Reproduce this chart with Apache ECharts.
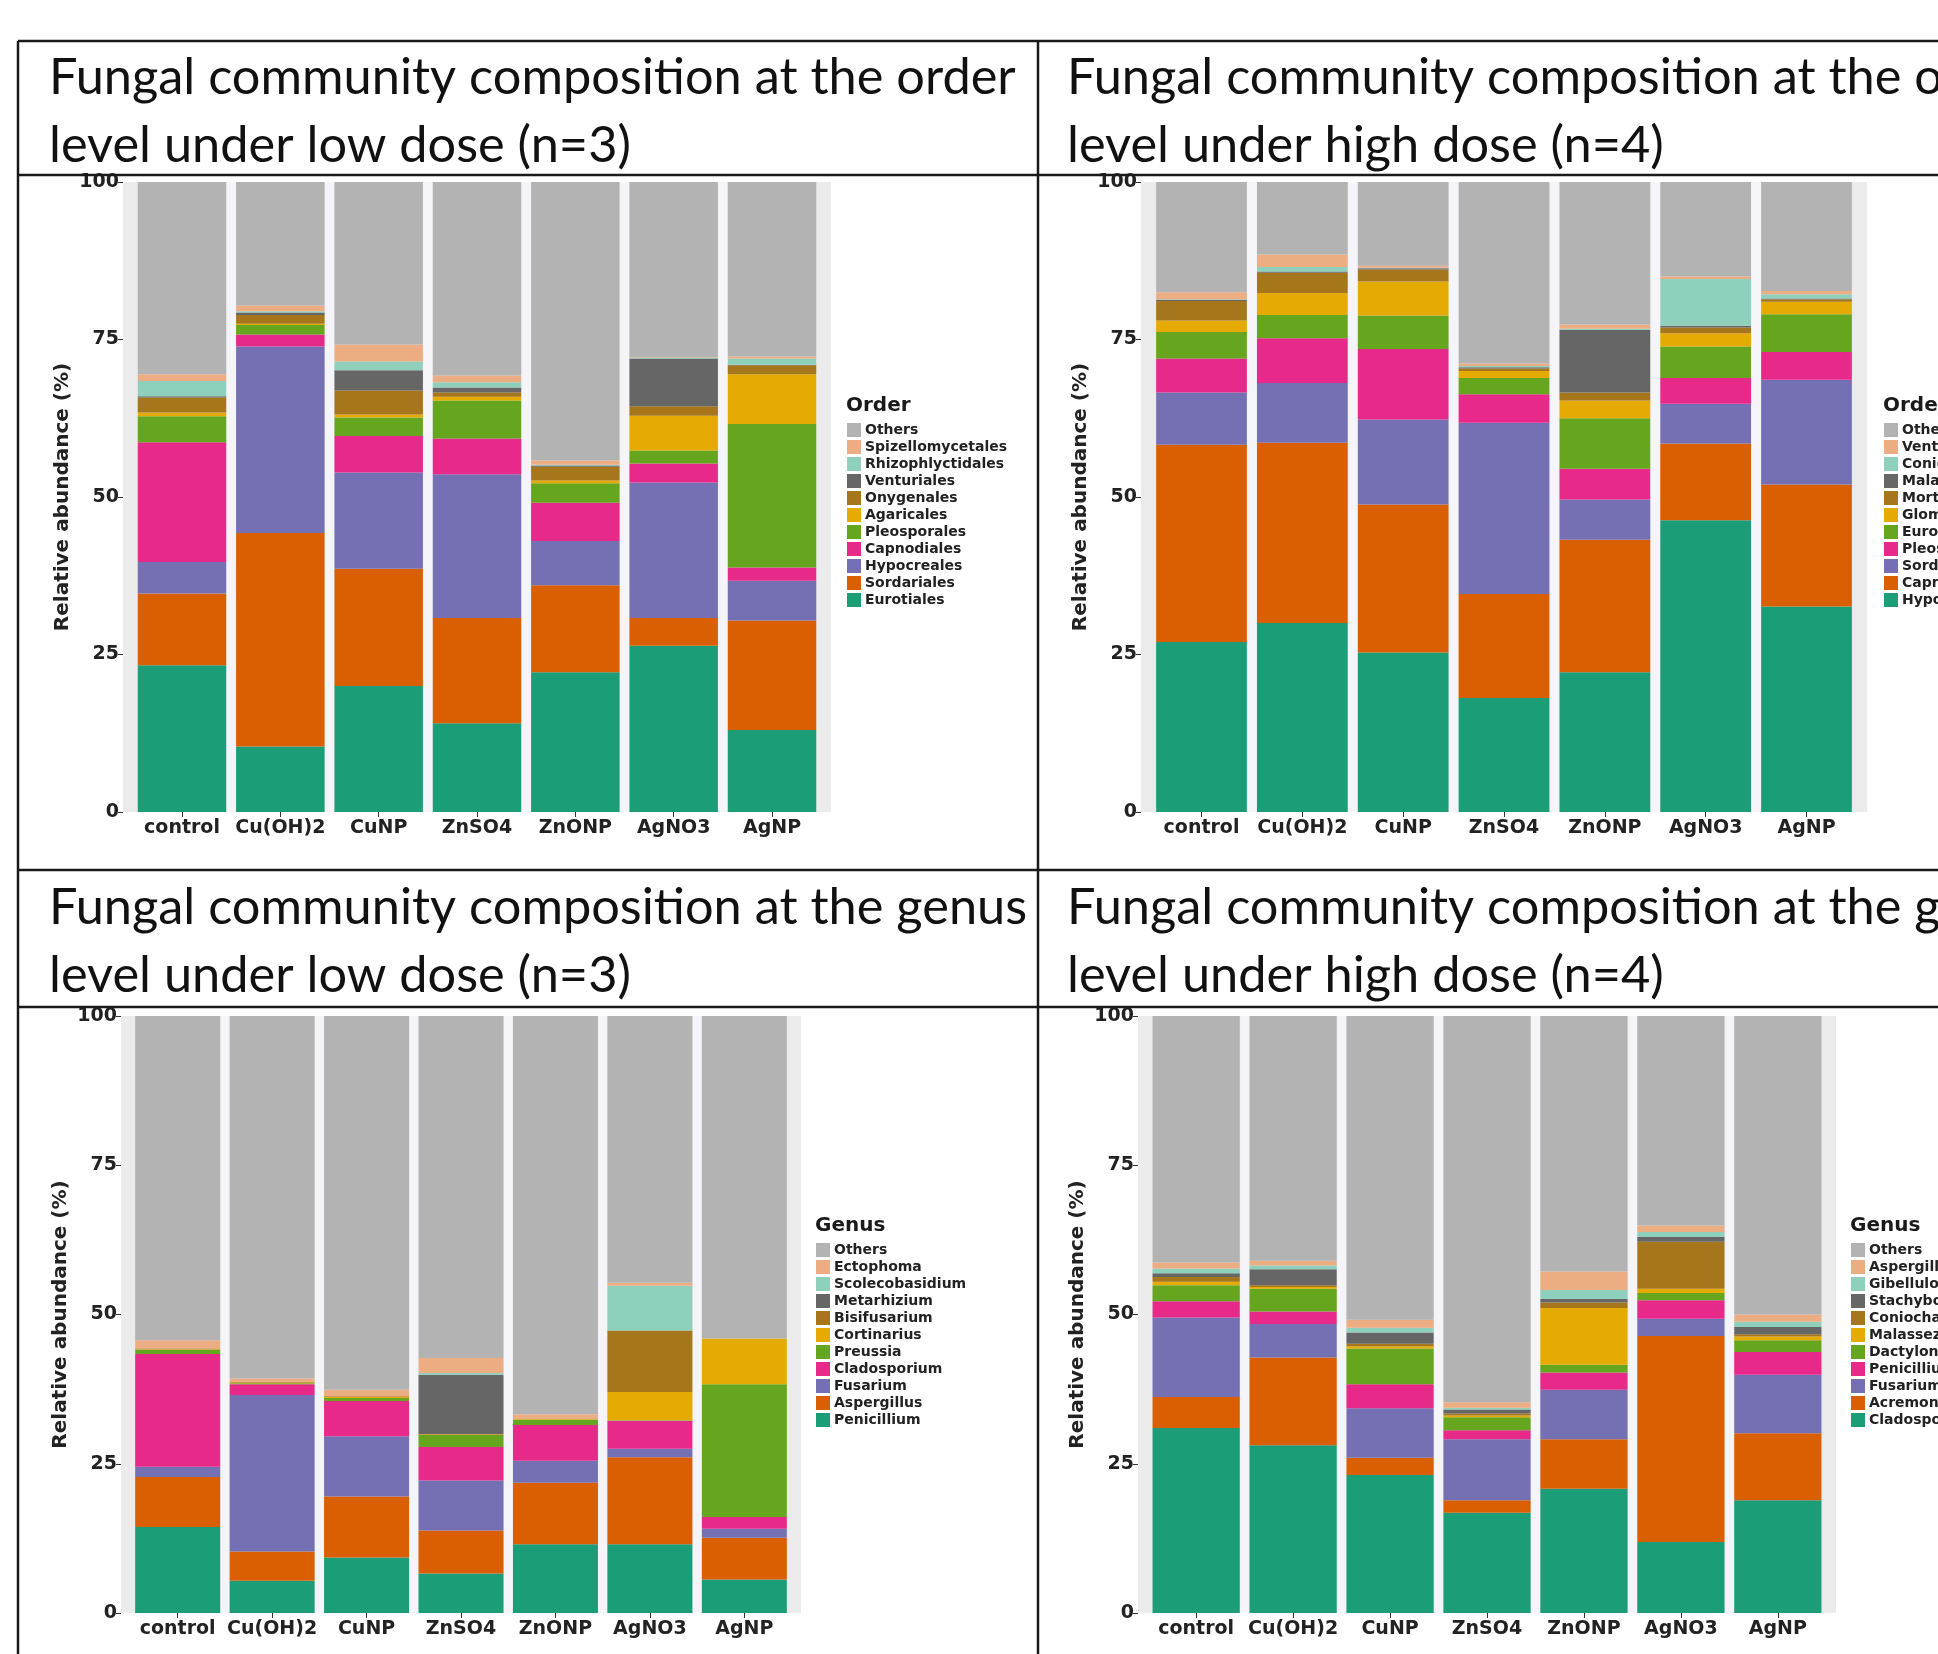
<!DOCTYPE html>
<html>
<head>
<meta charset="utf-8">
<script src="https://cdn.jsdelivr.net/npm/echarts@6/dist/echarts.min.js"></script>
<style>
  html, body { margin: 0; padding: 0; background: #fff; overflow: hidden; }
  #chart { width: 1938px; height: 1654px; }
</style>
</head>
<body>
<div id="chart"></div>
<script>
// Treatments on every x axis
const treatments = ['control', 'Cu(OH)2', 'CuNP', 'ZnSO4', 'ZnONP', 'AgNO3', 'AgNP'];

// Taxa, listed from the bottom of each stack to the top
const orderLowTaxa = ['Eurotiales', 'Sordariales', 'Hypocreales', 'Capnodiales', 'Pleosporales', 'Agaricales',
  'Onygenales', 'Venturiales', 'Rhizophlyctidales', 'Spizellomycetales', 'Others'];
const orderHighTaxa = ['Hypocreales', 'Capnodiales', 'Sordariales', 'Pleosporales', 'Eurotiales', 'Glomerellales',
  'Mortierellales', 'Malasseziales', 'Coniochaetales', 'Venturiales', 'Others'];
const genusLowTaxa = ['Penicillium', 'Aspergillus', 'Fusarium', 'Cladosporium', 'Preussia', 'Cortinarius',
  'Bisifusarium', 'Metarhizium', 'Scolecobasidium', 'Ectophoma', 'Others'];
const genusHighTaxa = ['Cladosporium', 'Acremonium', 'Fusarium', 'Penicillium', 'Dactylonectria', 'Malassezia',
  'Coniochaeta', 'Stachybotrys', 'Gibellulopsis', 'Aspergillus', 'Others'];

// Relative abundance (%), one row per taxon (same order as the taxa lists), one column per treatment
const orderLowAbundance = [
  [23.3, 10.4, 20.0, 14.1, 22.2, 26.4, 13.0],
  [11.4, 33.9, 18.6, 16.7, 13.8, 4.4, 17.4],
  [5.0, 29.6, 15.3, 22.8, 7.0, 21.5, 6.3],
  [19.0, 1.9, 5.8, 5.7, 6.1, 3.0, 2.1],
  [4.1, 1.5, 2.9, 6.0, 3.1, 2.1, 22.8],
  [0.6, 0.2, 0.5, 0.6, 0.4, 5.5, 7.9],
  [2.4, 1.4, 3.8, 0.7, 2.2, 1.5, 1.4],
  [0.2, 0.4, 3.2, 0.8, 0.2, 7.6, 0.1],
  [2.4, 0.2, 1.4, 0.8, 0.1, 0.1, 1.0],
  [1.1, 0.9, 2.7, 1.1, 0.7, 0.1, 0.3],
  [30.5, 19.6, 25.8, 30.7, 44.2, 27.8, 27.7]
];
const orderHighAbundance = [
  [27.0, 30.0, 25.3, 18.1, 22.2, 46.3, 32.6],
  [31.3, 28.6, 23.5, 16.5, 21.0, 12.2, 19.4],
  [8.3, 9.5, 13.5, 27.2, 6.4, 6.3, 16.6],
  [5.4, 7.1, 11.2, 4.5, 4.9, 4.1, 4.4],
  [4.2, 3.7, 5.3, 2.6, 8.0, 5.0, 6.0],
  [1.8, 3.5, 5.4, 1.1, 2.8, 2.1, 2.0],
  [3.1, 3.2, 1.9, 0.4, 1.3, 0.9, 0.4],
  [0.2, 0.2, 0.2, 0.2, 9.9, 0.3, 0.1],
  [0.1, 0.7, 0.1, 0.2, 0.2, 7.4, 0.7],
  [1.1, 2.0, 0.3, 0.4, 0.7, 0.4, 0.5],
  [17.5, 11.5, 13.3, 28.8, 22.6, 15.0, 17.3]
];
const genusLowAbundance = [
  [14.4, 5.4, 9.3, 6.6, 11.5, 11.5, 5.6],
  [8.4, 4.9, 10.2, 7.2, 10.3, 14.6, 7.0],
  [1.7, 26.2, 10.1, 8.4, 3.7, 1.4, 1.5],
  [18.9, 1.8, 5.9, 5.6, 6.0, 4.7, 2.0],
  [0.7, 0.2, 0.5, 2.0, 0.9, 0.1, 22.2],
  [0.1, 0.1, 0.2, 0.1, 0.1, 4.7, 7.7],
  [0.1, 0.1, 0.1, 0.1, 0.0, 10.3, 0.0],
  [0.0, 0.0, 0.0, 9.9, 0.0, 0.0, 0.0],
  [0.0, 0.0, 0.0, 0.3, 0.0, 7.5, 0.0],
  [1.4, 0.6, 1.1, 2.5, 0.8, 0.5, 0.0],
  [54.3, 60.7, 62.6, 57.3, 66.7, 44.7, 54.0]
];
const genusHighAbundance = [
  [31.0, 28.1, 23.1, 16.8, 20.8, 11.9, 18.9],
  [5.2, 14.7, 2.9, 2.1, 8.3, 34.5, 11.2],
  [13.3, 5.6, 8.3, 10.2, 8.3, 2.9, 9.8],
  [2.7, 2.1, 4.0, 1.5, 2.9, 3.1, 3.8],
  [2.7, 3.8, 6.0, 2.2, 1.3, 1.2, 2.0],
  [0.6, 0.3, 0.4, 0.3, 9.5, 0.7, 0.6],
  [0.8, 0.3, 0.4, 0.3, 0.9, 7.9, 0.4],
  [0.6, 2.7, 1.9, 0.7, 0.6, 0.8, 1.2],
  [0.8, 0.6, 0.8, 0.3, 1.5, 0.8, 0.9],
  [1.0, 0.8, 1.3, 0.9, 3.1, 1.1, 1.2],
  [41.3, 41.0, 50.9, 64.7, 42.8, 35.1, 50.0]
];

// Colours by stack position (bottom to top)
const palette = ['#1B9E77', '#D95F02', '#7570B3', '#E7298A', '#66A61E', '#E6AB02',
  '#A6761D', '#666666', '#8FD0BC', '#EDAD83', '#B3B3B3'];

const panels = [
  { key: 'ol', heading: 'Fungal community composition at the order\nlevel under low dose (n=3)', legendTitle: 'Order',
    taxa: orderLowTaxa, values: orderLowAbundance,
    headX: 49, headY: 44, plot: { l: 123, r: 831, t: 182, b: 812 }, legend: { x: 847, y: 396 } },
  { key: 'oh', heading: 'Fungal community composition at the order\nlevel under high dose (n=4)', legendTitle: 'Order',
    taxa: orderHighTaxa, values: orderHighAbundance,
    headX: 1067, headY: 44, plot: { l: 1141, r: 1867, t: 182, b: 812 }, legend: { x: 1884, y: 396 } },
  { key: 'gl', heading: 'Fungal community composition at the genus\nlevel under low dose (n=3)', legendTitle: 'Genus',
    taxa: genusLowTaxa, values: genusLowAbundance,
    headX: 49, headY: 874, plot: { l: 121, r: 801, t: 1016, b: 1613 }, legend: { x: 816, y: 1216 } },
  { key: 'gh', heading: 'Fungal community composition at the genus\nlevel under high dose (n=4)', legendTitle: 'Genus',
    taxa: genusHighTaxa, values: genusHighAbundance,
    headX: 1067, headY: 874, plot: { l: 1138, r: 1836, t: 1016, b: 1613 }, legend: { x: 1851, y: 1216 } }
];

const ggFont = 'DejaVu Sans';
const grids = [], xAxes = [], yAxes = [], series = [], legends = [], titles = [], graphics = [];

panels.forEach((p, i) => {
  const pitch = (p.plot.r - p.plot.l) / 7.2;
  const pad = 0.1 * pitch;

  // grey panel behind the bars (ggplot-style expansion of 0.6 band on each side)
  graphics.push({
    type: 'rect', z: -10, silent: true,
    shape: { x: p.plot.l, y: p.plot.t, width: p.plot.r - p.plot.l, height: p.plot.b - p.plot.t },
    style: { fill: '#EBEBEB' }
  });

  grids.push({ left: p.plot.l + pad, top: p.plot.t, width: 7 * pitch, height: p.plot.b - p.plot.t });

  xAxes.push({
    type: 'category', gridIndex: i, data: treatments,
    axisLine: { show: false },
    axisTick: { show: true, alignWithLabel: true, length: 5, lineStyle: { color: '#333' } },
    axisLabel: { interval: 0, margin: 7, fontFamily: ggFont, fontWeight: 'bold', fontSize: 19, color: '#222' },
    splitLine: { show: true, showMinLine: false, showMaxLine: false,
      lineStyle: { color: '#F5F5F9', width: pad } }
  });

  yAxes.push({
    type: 'value', gridIndex: i, min: 0, max: 100, interval: 25, offset: pad,
    axisLine: { show: false },
    axisTick: { show: true, length: 5, lineStyle: { color: '#333' } },
    axisLabel: { margin: 4, fontFamily: ggFont, fontWeight: 'bold', fontSize: 19, color: '#222' },
    splitLine: { show: false },
    name: 'Relative abundance (%)', nameLocation: 'middle', nameGap: 50,
    nameTextStyle: { fontFamily: ggFont, fontWeight: 'bold', fontSize: 20, color: '#222' }
  });

  p.taxa.forEach((taxon, j) => {
    series.push({
      type: 'bar', name: p.key + '|' + taxon, stack: p.key,
      xAxisIndex: i, yAxisIndex: i, data: p.values[j],
      barWidth: '90%', itemStyle: { color: palette[j] },
      emphasis: { disabled: true }
    });
  });

  legends.push({
    orient: 'vertical', left: p.legend.x, top: p.legend.y + 27, padding: 0,
    itemWidth: 14, itemHeight: 14, itemGap: 3, icon: 'rect', selectedMode: false,
    data: p.taxa.slice().reverse().map(t => p.key + '|' + t),
    formatter: n => n.split('|')[1],
    textStyle: { fontFamily: ggFont, fontWeight: 'bold', fontSize: 14, color: '#222', padding: [0, 0, 0, -1] }
  });

  titles.push({
    text: p.legendTitle, left: p.legend.x - 1, top: p.legend.y, padding: 0,
    textStyle: { fontFamily: ggFont, fontWeight: 'bold', fontSize: 20, color: '#1a1a1a' }
  });

  titles.push({
    text: p.heading, left: p.headX, top: p.headY, padding: 0,
    textStyle: { fontFamily: 'Lato', fontWeight: 'normal', fontSize: 50.5, lineHeight: 68, color: '#111' }
  });
});

// table frame around the four panels
const frame = '#1a1a1a';
[[18, 41, 1938, 41], [18, 175, 1938, 175], [18, 870, 1938, 870], [18, 1007, 1938, 1007],
 [18, 41, 18, 1654], [1038, 41, 1038, 1654]].forEach(([x1, y1, x2, y2]) => {
  graphics.push({ type: 'line', z: 100, silent: true,
    shape: { x1, y1, x2, y2 }, style: { stroke: frame, lineWidth: 2.5 } });
});

const chart = echarts.init(document.getElementById('chart'), null, { renderer: 'canvas' });
chart.setOption({
  backgroundColor: '#ffffff',
  animation: false,
  title: titles,
  grid: grids,
  xAxis: xAxes,
  yAxis: yAxes,
  legend: legends,
  series: series,
  graphic: graphics
});
</script>
</body>
</html>
